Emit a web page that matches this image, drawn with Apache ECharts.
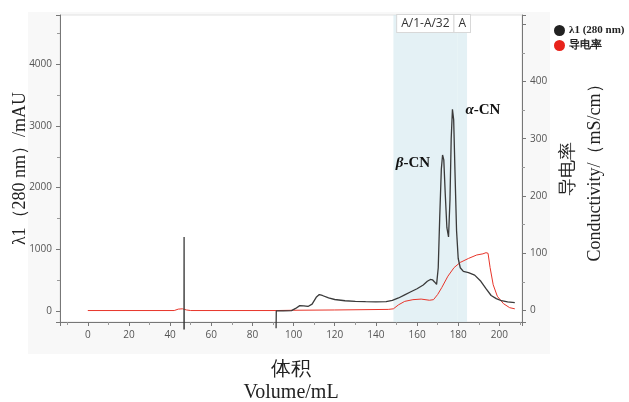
<!DOCTYPE html>
<html>
<head>
<meta charset="utf-8">
<script src="https://cdn.jsdelivr.net/npm/echarts@6/dist/echarts.min.js"></script>
<style>
html, body { margin: 0; padding: 0; background: #fff; }
#chart { width: 629px; height: 402px; }
</style>
</head>
<body>
<div id="chart"></div>
<script>
// UV 280 nm trace (volume mL, mAU)
var uvSpike = [[46.75, -300], [46.8, 1200], [46.85, -300]];
var uvTrace = [
    [91.5, -280], [91.6, 0], [95, 2], [99, 5], [101, 40], [103, 85], [105, 80], [107, 72],
    [109, 110], [111, 220], [112.5, 265], [114, 250], [117, 210], [120, 185], [125, 165],
    [130, 155], [135, 150], [140, 147], [145, 150], [148, 170], [151, 210], [154, 260],
    [157, 310], [160, 360], [163, 420], [165, 480], [166.5, 510], [167.5, 505], [168.5, 470],
    [169.5, 430], [170.3, 700], [171, 1500], [171.8, 2300], [172.4, 2530], [173, 2450],
    [173.7, 1900], [174.5, 1350], [175.3, 1200], [176, 1800], [176.6, 2800], [177.2, 3270],
    [177.8, 3100], [178.4, 2300], [179.2, 1300], [180, 850], [181, 700], [182.5, 640],
    [185, 620], [188, 580], [191, 480], [193.5, 360], [196, 250], [198.5, 200], [201, 165],
    [204, 145], [207.5, 135]
];
// conductivity (volume mL, mS/cm)
var conductivity = [
    [0, 0], [42, 0], [44, 2.5], [46, 3], [48, 1], [50, 0], [92, 0], [100, 0.5], [120, 1],
    [146, 2], [148.5, 3], [151, 10], [154, 16], [158, 19], [162, 20], [166, 18], [168, 19],
    [170, 28], [172, 40], [175, 60], [178, 75], [181, 84], [185, 91], [189, 97], [192, 99],
    [193.5, 101], [194.5, 100], [195.5, 75], [197, 45], [199, 25], [202, 12], [205, 5], [207.5, 3]
];
var fractions = [
    { name: 'A/1-A/32', from: 148.5, to: 179.6 },
    { name: 'A', from: 179.6, to: 184.3 }
];
var peakLabels = [
    { greek: 'β', coord: [158, 2400] },
    { greek: 'α', coord: [192, 3260] }
];

var myChart = echarts.init(document.getElementById('chart'));

var tickLabel = { color: '#555', fontSize: 10, fontFamily: 'Open Sans' };
var axisLine = { show: true, onZero: false, lineStyle: { color: '#777', width: 1 } };
var serif = 'Liberation Serif';

var option = {
    animation: false,
    backgroundColor: '#fff',
    graphic: [
        {
            type: 'rect', z: -10, silent: true,
            shape: { x: 28, y: 12, width: 522, height: 342 },
            style: { fill: '#f8f8f8' }
        }
    ],
    grid: {
        left: 60, right: 107, top: 15, bottom: 80,
        outerBoundsMode: 'none',
        show: true,
        backgroundColor: '#fff',
        borderColor: '#e2e2e2',
        borderWidth: 1
    },
    legend: {
        orient: 'vertical',
        left: 549,
        top: 20,
        itemWidth: 11,
        itemHeight: 11,
        itemGap: 4,
        icon: 'circle',
        data: ['λ1 (280 nm)', '导电率'],
        textStyle: { fontFamily: serif, fontWeight: 'bold', fontSize: 11, color: '#222', padding: [0, 0, 0, -1] }
    },
    xAxis: {
        type: 'value',
        min: -13.5,
        max: 211,
        splitNumber: 11,
        name: '体积\nVolume/mL',
        nameLocation: 'middle',
        nameMoveOverlap: false,
        nameGap: 36,
        nameTextStyle: { fontFamily: serif, fontSize: 20, lineHeight: 23, color: '#222' },
        axisLine: axisLine,
        axisTick: { show: true, length: 4, lineStyle: { color: '#777' } },
        minorTick: { show: true, splitNumber: 2, length: 3, lineStyle: { color: '#999' } },
        axisLabel: Object.assign({
            showMinLabel: false, showMaxLabel: false,
            formatter: function (v) { return v % 20 === 0 ? v : ''; }
        }, tickLabel),
        splitLine: { show: false }
    },
    yAxis: [
        {
            type: 'value',
            min: -180,
            max: 4800,
            splitNumber: 5,
            name: 'λ1（280 nm）/mAU',
            nameLocation: 'middle',
            nameMoveOverlap: false,
            nameGap: 31,
            nameTextStyle: { fontFamily: serif, fontSize: 18, color: '#222' },
            axisLine: axisLine,
            axisTick: { show: true, length: 4, lineStyle: { color: '#777' } },
            minorTick: { show: true, splitNumber: 2, length: 3, lineStyle: { color: '#999' } },
            axisLabel: Object.assign({
                showMinLabel: false, showMaxLabel: false,
                formatter: function (v) { return v % 1000 === 0 ? v : ''; }
            }, tickLabel),
            splitLine: { show: false }
        },
        {
            type: 'value',
            position: 'right',
            min: -20,
            max: 516,
            splitNumber: 5,
            name: '导电率\nConductivity/（mS/cm）',
            nameLocation: 'middle',
            nameMoveOverlap: false,
            nameRotate: 90,
            nameGap: 33,
            nameTextStyle: { fontFamily: serif, fontSize: 18, lineHeight: 27, color: '#222' },
            axisLine: axisLine,
            axisTick: { show: true, length: 4, lineStyle: { color: '#777' } },
            minorTick: { show: true, splitNumber: 2, length: 3, lineStyle: { color: '#999' } },
            axisLabel: Object.assign({
                showMinLabel: false, showMaxLabel: false,
                formatter: function (v) { return v % 100 === 0 && v < 500 ? v : ''; }
            }, tickLabel),
            splitLine: { show: false }
        }
    ],
    series: [
        {
            name: 'λ1 (280 nm)',
            type: 'line',
            yAxisIndex: 0,
            data: uvTrace,
            showSymbol: false,
            clip: false,
            color: '#222',
            lineStyle: { color: '#3a3a3a', width: 1.3 },
            z: 3,
            markArea: {
                silent: true,
                itemStyle: { color: 'rgba(205,230,236,0.55)' },
                label: {
                    show: true,
                    position: 'insideTop',
                    distance: 0,
                    color: '#333',
                    fontSize: 12,
                    fontFamily: 'Open Sans',
                    backgroundColor: '#fff',
                    borderColor: '#d8d8d8',
                    borderWidth: 1,
                    padding: [3, 4, 2, 4]
                },
                data: fractions.map(function (f) {
                    return [{ name: f.name, xAxis: f.from }, { xAxis: f.to }];
                })
            },
            markPoint: {
                silent: true,
                symbol: 'circle',
                symbolSize: 0,
                label: {
                    show: true,
                    position: 'inside',
                    formatter: function (p) { return '{g|' + p.name + '}{t|-CN}'; },
                    rich: {
                        g: { fontFamily: serif, fontStyle: 'italic', fontWeight: 'bold', fontSize: 15, color: '#111' },
                        t: { fontFamily: serif, fontWeight: 'bold', fontSize: 15, color: '#111' }
                    }
                },
                data: peakLabels.map(function (p) {
                    return { name: p.greek, coord: p.coord };
                })
            }
        },
        {
            name: 'λ1 (280 nm)',
            type: 'line',
            yAxisIndex: 0,
            data: uvSpike,
            showSymbol: false,
            clip: false,
            color: '#222',
            lineStyle: { color: '#3a3a3a', width: 1.3 },
            z: 3
        },
        {
            name: '导电率',
            type: 'line',
            yAxisIndex: 1,
            data: conductivity,
            showSymbol: false,
            color: '#e8231b',
            lineStyle: { color: '#e8352a', width: 1 },
            z: 2
        }
    ]
};

myChart.setOption(option);
</script>
</body>
</html>
